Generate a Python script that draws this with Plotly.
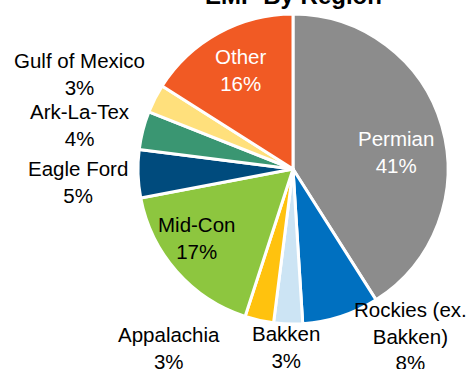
import plotly.graph_objects as go

# EMP share by region (percent)
regions = ["Permian", "Rockies (ex. Bakken)", "Bakken", "Appalachia", "Mid-Con",
           "Eagle Ford", "Ark-La-Tex", "Gulf of Mexico", "Other"]
shares = [41, 8, 3, 3, 17, 5, 4, 3, 16]
colors = ["#8C8C8C", "#0070C0", "#CCE4F4", "#FFC20E", "#8DC63F",
          "#004B7D", "#3A9672", "#FFE07C", "#F15A24"]

W, H = 469, 369
# pie circle: centre and radius in pixels
cx, cy, r = 293, 169, 155

# label block centres (pixels) and text colours
label_pos = {
    "Permian": (396, 152),
    "Rockies (ex. Bakken)": (410, 336),
    "Bakken": (286, 347),
    "Appalachia": (169, 348),
    "Mid-Con": (196, 238),
    "Eagle Ford": (78, 182),
    "Ark-La-Tex": (80, 125),
    "Gulf of Mexico": (79, 74),
    "Other": (240, 70),
}
label_color = {"Permian": "white", "Other": "white"}

fig = go.Figure(go.Pie(
    labels=regions,
    values=shares,
    sort=False,
    direction="clockwise",
    rotation=0,
    marker=dict(colors=colors, line=dict(color="white", width=3)),
    textinfo="none",
    hoverinfo="label+percent",
    showlegend=False,
    domain=dict(x=[(cx - r) / W, (cx + r) / W], y=[(H - cy - r) / H, (H - cy + r) / H]),
))

annotations = []
for name, val in zip(regions, shares):
    px, py = label_pos[name]
    text = name.replace("(ex. ", "(ex.<br>") + f"<br>{val}%"
    annotations.append(dict(
        text=text, x=px / W, y=1 - py / H, xref="paper", yref="paper",
        xanchor="center", yanchor="middle", showarrow=False, align="center",
        font=dict(family="Liberation Sans, Arial, sans-serif", size=20.5,
                  color=label_color.get(name, "black")),
    ))

annotations.append(dict(
    text="<b>EMP By Region</b>", x=cx / W, y=1 - (-4) / H, xref="paper", yref="paper",
    xanchor="center", yanchor="middle", showarrow=False,
    font=dict(family="Liberation Sans, Arial, sans-serif", size=24, color="black"),
))

fig.update_layout(
    width=W, height=H,
    margin=dict(l=0, r=0, t=0, b=0),
    paper_bgcolor="white",
    plot_bgcolor="white",
    annotations=annotations,
)

fig.write_html("out.html")
